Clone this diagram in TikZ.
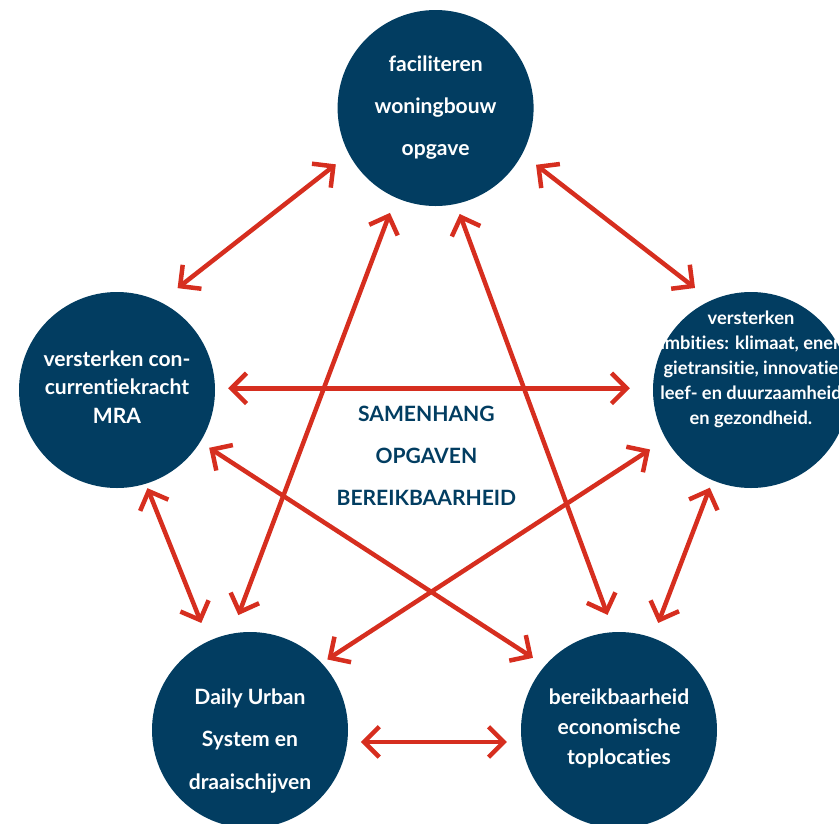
\documentclass[tikz,border=0pt]{standalone}
\usepackage{fontspec}
\setmainfont{Lato}[Ligatures={NoCommon,NoDiscretionary}]
\usetikzlibrary{arrows.meta}

\definecolor{navy}{HTML}{023D61}
\definecolor{pijlrood}{HTML}{D62E1F}

\begin{document}
\begin{tikzpicture}[>={Straight Barb[length=3.8mm,width=7.6mm]},
  bol/.style={circle,fill=navy,minimum size=4.9cm,inner sep=0pt,outer sep=0pt},
  txt/.style={align=center,text=white},
  link/.style 2 args={draw=pijlrood,line width=3.2pt,<->,shorten <=#1cm,shorten >=#2cm}]
\clip (0,0) rectangle (20.975,-20.6);
% de vijf opgaven
\node[bol] (t) at (10.89,-2.7) {};
\node[bol] (l) at (2.925,-9.75) {};
\node[bol] (r) at (18.775,-9.75) {};
\node[bol] (bl) at (6.25,-18.25) {};
\node[bol] (br) at (15.475,-18.25) {};
\node[txt,font=\bfseries\fontsize{15}{29.8}\selectfont] at (10.89,-2.69) {faciliteren\\woningbouw\\opgave};
\node[txt,font=\bfseries\fontsize{15}{20.5}\selectfont] at (2.925,-9.675) {versterken con-\\currentiekracht\\MRA};
\node[txt,font=\bfseries\fontsize{13}{17.7}\selectfont] at (18.775,-9.24) {versterken\\ambities: klimaat, ener-\\gietransitie, innovatie\\leef- en duurzaamheid\\en gezondheid.};
\node[txt,font=\bfseries\fontsize{15}{30.5}\selectfont] at (6.25,-18.525) {Daily Urban\\System en\\draaischijven};
\node[txt,font=\bfseries\fontsize{15}{21}\selectfont] at (15.475,-18.21) {bereikbaarheid\\economische\\toplocaties};
% midden
\node[align=center,text=navy,font=\bfseries\fontsize{15}{30}\selectfont] (kern) at (10.66,-11.39) {SAMENHANG\\OPGAVEN\\BEREIKBAARHEID};
% pijlen tussen de opgaven
\draw[link={.42}{.56}] (t.208) -- (l.64);
\draw[link={.44}{.51}] (t.332) -- (r.114);
\draw[link={.33}{.58}] (l.1) -- (r.179);
\draw[link={.12}{.49}] (l.287) -- (bl.115);
\draw[link={.2}{.4}] (r.247) -- (br.70);
\draw[link={.34}{.37}] (bl.353) -- (br.187);
\draw[link={.41}{.5}] (t.246) -- (bl.101);
\draw[link={.27}{.46}] (t.282) -- (br.93);
\draw[link={.27}{.36}] (l.328) -- (br.139);
\draw[link={.48}{.17}] (r.210) -- (bl.43);
\end{tikzpicture}
\end{document}
